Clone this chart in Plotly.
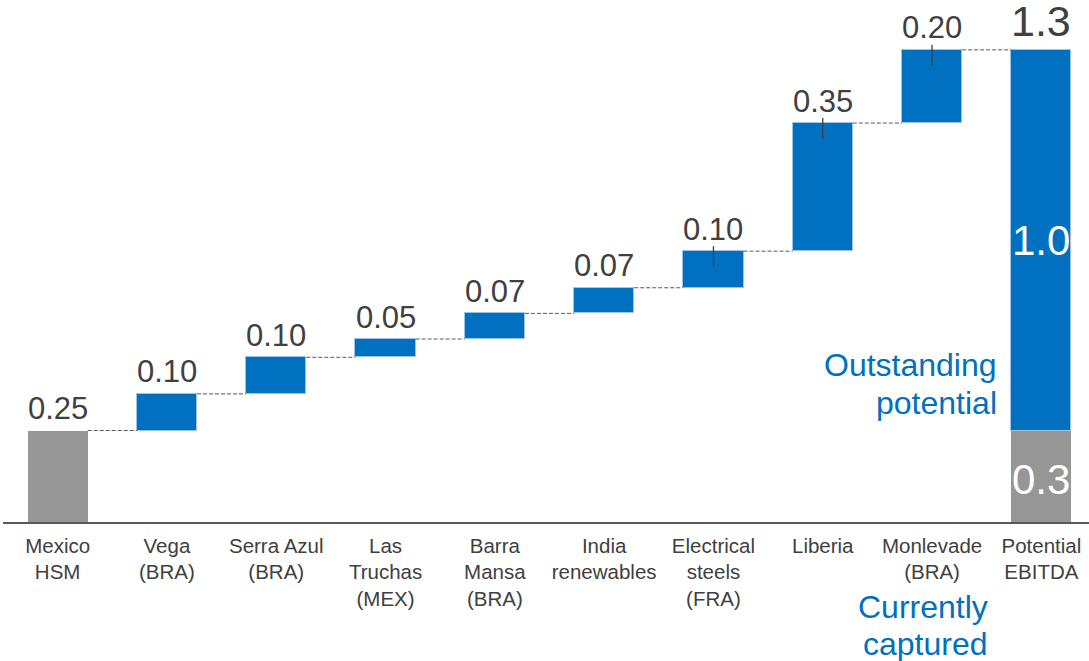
import plotly.graph_objects as go

categories = ["Mexico<br>HSM", "Vega<br>(BRA)", "Serra Azul<br>(BRA)", "Las<br>Truchas<br>(MEX)",
              "Barra<br>Mansa<br>(BRA)", "India<br>renewables", "Electrical<br>steels<br>(FRA)",
              "Liberia", "Monlevade<br>(BRA)", "Potential<br>EBITDA"]
increments = [0.25, 0.10, 0.10, 0.05, 0.07, 0.07, 0.10, 0.35, 0.20]
increment_labels = ["0.25", "0.10", "0.10", "0.05", "0.07", "0.07", "0.10", "0.35", "0.20"]
captured = 0.25
total_labels = {"total": "1.3", "outstanding": "1.0", "captured": "0.3"}
leader_idx = [6, 7, 8]
outstanding_text = ["Outstanding", "potential"]
captured_text = ["Currently", "captured"]

BLUE = "#0070C0"
GRAY = "#969696"
TXT = "#404040"
FONT = "Liberation Sans, Arial, sans-serif"

bases = []
run = 0.0
for v in increments:
    bases.append(run)
    run += v
total = run
outstanding = total - captured

fig = go.Figure()
fig.add_trace(go.Bar(x=[categories[0]], y=[increments[0]], base=[0], width=0.55,
                     marker=dict(color=GRAY, line=dict(width=0)), showlegend=False))
fig.add_trace(go.Bar(x=categories[1:9], y=increments[1:], base=bases[1:], width=0.55,
                     marker=dict(color=BLUE, line=dict(color="#9DC3E6", width=1)), showlegend=False))
fig.add_trace(go.Bar(x=[categories[9]], y=[captured], base=[0], width=0.55,
                     marker=dict(color=GRAY, line=dict(width=0)), showlegend=False))
fig.add_trace(go.Bar(x=[categories[9]], y=[outstanding], base=[captured], width=0.55,
                     marker=dict(color=BLUE, line=dict(color="#9DC3E6", width=1)), showlegend=False))

SCALE = 366.0  # px per unit
tops = [b + v for b, v in zip(bases, increments)]
for i, t in enumerate(tops):
    fig.add_shape(type="line", xref="x", yref="y", x0=i + 0.275, x1=i + 1 - 0.275, y0=t, y1=t,
                  line=dict(color="#595959", width=1, dash="4px,2px"))

for i in leader_idx:
    t = tops[i]
    fig.add_shape(type="line", xref="x", yref="y", x0=i, x1=i, y0=t + 5 / SCALE, y1=t - 16 / SCALE,
                  line=dict(color="#404040", width=1.3))

for i, (t, lab) in enumerate(zip(tops, increment_labels)):
    fig.add_annotation(x=i, y=t, xref="x", yref="y", text=lab, showarrow=False,
                       yanchor="middle", yshift=22, font=dict(family=FONT, size=31, color=TXT))

fig.add_annotation(x=9, y=total, text=total_labels["total"], showarrow=False, yanchor="middle",
                   yshift=29, font=dict(family=FONT, size=43, color=TXT))
fig.add_annotation(x=9, y=captured + outstanding / 2, text=total_labels["outstanding"], showarrow=False,
                   yanchor="middle", font=dict(family=FONT, size=42, color="white"))
fig.add_annotation(x=9, y=captured * 0.47, text=total_labels["captured"], showarrow=False,
                   yanchor="middle", font=dict(family=FONT, size=42, color="white"))

def px(xp, yp):
    return (xp - 3) / 1086, (522 - yp) / 522

for line, yp in zip(outstanding_text, [365, 403]):
    ax, ay = px(999, yp)
    fig.add_annotation(x=ax, y=ay, xref="paper", yref="paper", text=line, showarrow=False,
                       xanchor="right", yanchor="middle", font=dict(family=FONT, size=32, color=BLUE))
for line, yp in zip(captured_text, [607, 644]):
    ax, ay = px(990, yp)
    fig.add_annotation(x=ax, y=ay, xref="paper", yref="paper", text=line, showarrow=False,
                       xanchor="right", yanchor="middle", font=dict(family=FONT, size=32, color=BLUE))

fig.update_layout(
    width=1089, height=661,
    margin=dict(l=3, r=0, t=0, b=139, autoexpand=False),
    plot_bgcolor="white", paper_bgcolor="white",
    barmode="overlay", bargap=0,
    font=dict(family=FONT, color=TXT),
    xaxis=dict(type="category", range=[-0.5, -0.5 + 1086 / 109.3], showgrid=False, automargin=False,
               showline=True, linecolor="#595959", linewidth=2, ticks="", ticklabelstandoff=4,
               tickfont=dict(family=FONT, size=20.5, color=TXT), fixedrange=True),
    yaxis=dict(range=[0, 522 / SCALE], visible=False, showgrid=False, zeroline=False, automargin=False),
)

fig.write_html("out.html", config={"displayModeBar": False},
               post_script="document.body.style.margin='0';document.body.style.overflow='hidden';")
